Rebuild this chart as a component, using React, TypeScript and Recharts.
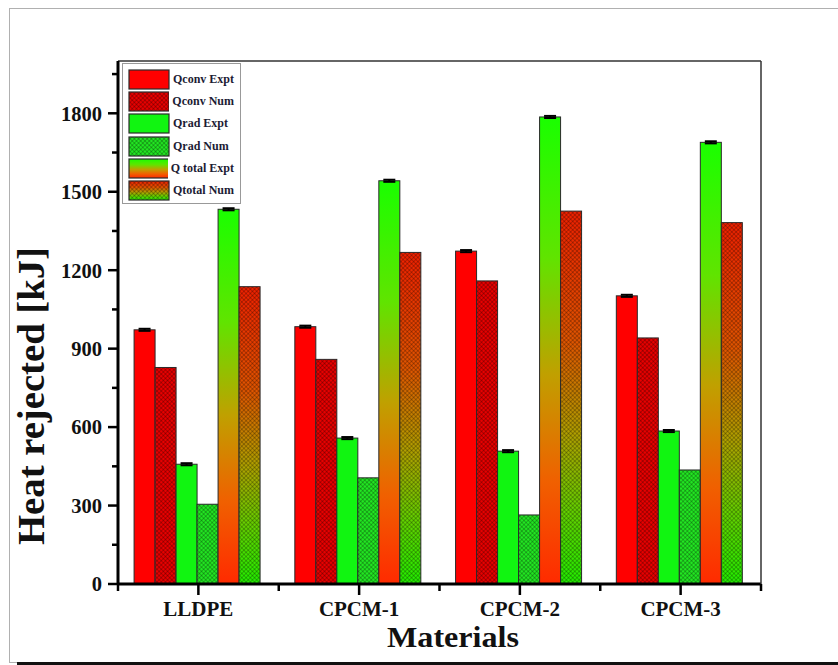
import React from 'react';
import { BarChart, Bar, XAxis, YAxis, ErrorBar, Legend } from 'recharts';

const categories = ['LLDPE', 'CPCM-1', 'CPCM-2', 'CPCM-3'];
const qconvExpt = [972, 984, 1273, 1102];
const qconvNum = [828, 859, 1159, 941];
const qradExpt = [458, 558, 508, 585];
const qradNum = [305, 406, 264, 436];
const qtotalExpt = [1433, 1542, 1786, 1689];
const qtotalNum = [1137, 1268, 1426, 1382];
const exptError = [4, 4, 4, 4];
const yMajorTicks = [0, 300, 600, 900, 1200, 1500, 1800];
const yMinorTicks = [150, 450, 750, 1050, 1350, 1650, 1950];
const seriesNames = ['Qconv Expt', 'Qconv Num', 'Qrad Expt', 'Qrad Num', 'Q total Expt', 'Qtotal Num'];

const data = categories.map((name, i) => ({
  name,
  qconvExpt: qconvExpt[i],
  qconvNum: qconvNum[i],
  qradExpt: qradExpt[i],
  qradNum: qradNum[i],
  qtotalExpt: qtotalExpt[i],
  qtotalNum: qtotalNum[i],
  err: exptError[i],
}));

const W = 838;
const H = 665;
const YAXIS_W = 60;
const XAXIS_H = 60;
// plot area: left 118, top 61, right 761, bottom 584
const M = { top: 60, left: 118 - YAXIS_W, right: 76, bottom: 665 - 584 - XAXIS_H };
const PLOT_W = 761 - 118;
const FONT = '"Liberation Serif", "Times New Roman", serif';

type Style = { fill: string; hatch: boolean };
const styles: Style[] = [
  { fill: '#ff0000', hatch: false },
  { fill: '#e80000', hatch: true },
  { fill: '#11f511', hatch: false },
  { fill: '#22e622', hatch: true },
  { fill: 'url(#gradExpt)', hatch: false },
  { fill: 'url(#gradNum)', hatch: true },
];
const keys = ['qconvExpt', 'qconvNum', 'qradExpt', 'qradNum', 'qtotalExpt', 'qtotalNum'];
const hasErr = [true, false, true, false, true, false];

const makeShape = (st: Style) => (props: any) => {
  const { x, y, width, height } = props;
  if (!height || height <= 0) return <g />;
  return (
    <g>
      <rect x={x} y={y} width={width} height={height} fill={st.fill} />
      {st.hatch && <rect x={x} y={y} width={width} height={height} fill="url(#hatch)" />}
      <rect x={x} y={y} width={width} height={height} fill="none" stroke="#2a2a2a" strokeWidth={1} />
    </g>
  );
};

const Defs = () => (
  <svg width={0} height={0} style={{ position: 'absolute', left: 0, top: 0 }}>
    <defs>
      <pattern id="hatch" width={3} height={3} patternUnits="userSpaceOnUse" patternTransform="rotate(45)">
        <path d="M0 0 H3 M0 0 V3" stroke="rgba(0,0,0,0.55)" strokeWidth={0.9} fill="none" />
      </pattern>
      <linearGradient id="gradExpt" x1="0" y1="0" x2="0" y2="1">
        <stop offset="0" stopColor="#1aff00" />
        <stop offset="0.3" stopColor="#60e400" />
        <stop offset="0.55" stopColor="#c0a000" />
        <stop offset="0.78" stopColor="#f06000" />
        <stop offset="1" stopColor="#ff2a00" />
      </linearGradient>
      <linearGradient id="gradNum" x1="0" y1="0" x2="0" y2="1">
        <stop offset="0" stopColor="#ee2000" />
        <stop offset="0.35" stopColor="#e05500" />
        <stop offset="0.6" stopColor="#b0a000" />
        <stop offset="0.8" stopColor="#66d000" />
        <stop offset="1" stopColor="#22ee00" />
      </linearGradient>
    </defs>
  </svg>
);

const YTick = (props: any) => {
  const { x, y, payload } = props;
  const major = payload.value % 300 === 0;
  return (
    <g>
      <line x1={x} y1={y} x2={x - (major ? 10 : 6)} y2={y} stroke="#000" strokeWidth={2.5} />
      {major && (
        <text x={x - 16} y={y} dy="0.36em" textAnchor="end" fontFamily={FONT} fontWeight="bold" fontSize={20.5} fill="#111">
          {payload.value}
        </text>
      )}
    </g>
  );
};

const XTick = (props: any) => {
  const { x, y, payload, index } = props;
  const band = PLOT_W / categories.length;
  return (
    <g>
      <line x1={x} y1={y} x2={x} y2={y + 11} stroke="#000" strokeWidth={2.5} />
      <line x1={x - band / 2} y1={y} x2={x - band / 2} y2={y + 7} stroke="#000" strokeWidth={2.5} />
      {index === categories.length - 1 && (
        <line x1={x + band / 2} y1={y} x2={x + band / 2} y2={y + 7} stroke="#000" strokeWidth={2.5} />
      )}
      <text x={x} y={y + 32} textAnchor="middle" fontFamily={FONT} fontWeight="bold" fontSize={21} fill="#111">
        {payload.value}
      </text>
    </g>
  );
};

const LegendBox = () => (
  <div
    style={{
      border: '1px solid #999',
      background: '#fff',
      padding: '4px 6px 1px 5px',
      width: 106,
      boxSizing: 'content-box',
    }}
  >
    {seriesNames.map((n, i) => (
      <div key={n} style={{ display: 'flex', alignItems: 'center', height: 22.3 }}>
        <svg width={42} height={21} style={{ display: 'block' }}>
          <rect x={1} y={1} width={40} height={19} fill={styles[i].fill} />
          {styles[i].hatch && <rect x={1} y={1} width={40} height={19} fill="url(#hatch)" />}
          <rect x={1} y={1} width={40} height={19} fill="none" stroke="#2a2a2a" strokeWidth={1.2} />
        </svg>
        <span style={{ fontFamily: FONT, fontWeight: 'bold', fontSize: 12, color: '#1c1c34', marginLeft: 3, whiteSpace: 'nowrap' }}>
          {n}
        </span>
      </div>
    ))}
  </div>
);

export default function App() {
  const ticks = [...yMajorTicks, ...yMinorTicks].sort((a, b) => a - b);
  return (
    <div style={{ position: 'absolute', left: 0, top: 0, width: W, height: H, background: '#fff', overflow: 'hidden' }}>
      <Defs />
      <div style={{ position: 'absolute', left: 9, top: 8, width: 840, height: 653, border: '1.5px solid #b0b0b0', borderRight: 'none' }} />
      <div style={{ position: 'absolute', left: 17, top: 662, width: 830, height: 3, background: '#111' }} />
      <div style={{ position: 'absolute', left: 0, top: 0 }}>
        <BarChart width={W} height={H} data={data} margin={M} barCategoryGap="10%" barGap={0}>
          <XAxis
            dataKey="name"
            height={XAXIS_H}
            tickSize={0}
            tickMargin={0}
            tickLine={false}
            interval={0}
            tick={<XTick />}
            axisLine={{ stroke: '#000', strokeWidth: 3 }}
            label={{
              content: () => (
                <text
                  x={453}
                  y={647}
                  textAnchor="middle"
                  fontFamily={FONT}
                  fontWeight="bold"
                  fontSize={29}
                  textLength={132}
                  lengthAdjust="spacingAndGlyphs"
                  fill="#111"
                >
                  Materials
                </text>
              ),
            }}
          />
          <XAxis xAxisId="top" dataKey="name" orientation="top" height={1} tick={false} tickLine={false} axisLine={{ stroke: '#333', strokeWidth: 1.5 }} />
          <YAxis
            domain={[0, 2000]}
            ticks={ticks}
            interval={0}
            width={YAXIS_W}
            tickSize={0}
            tickMargin={0}
            tickLine={false}
            tick={<YTick />}
            axisLine={{ stroke: '#000', strokeWidth: 3 }}
            label={{
              content: () => (
                <text
                  x={0}
                  y={0}
                  transform="translate(44 396) rotate(-90)"
                  textAnchor="middle"
                  fontFamily={FONT}
                  fontWeight="bold"
                  fontSize={37}
                  textLength={298}
                  lengthAdjust="spacingAndGlyphs"
                  fill="#111"
                >
                  Heat rejected [kJ]
                </text>
              ),
            }}
          />
          <YAxis yAxisId="right" orientation="right" domain={[0, 2000]} width={1} tick={false} tickLine={false} axisLine={{ stroke: '#333', strokeWidth: 1.5 }} />
          <Legend
            layout="vertical"
            align="center"
            verticalAlign="middle"
            content={() => <LegendBox />}
            wrapperStyle={{ position: 'absolute', left: 122, top: 63, width: 'auto', height: 'auto' }}
          />
          {keys.map((k, i) => (
            <Bar key={k} dataKey={k} name={seriesNames[i]} isAnimationActive={false} shape={makeShape(styles[i])}>
              {hasErr[i] && <ErrorBar dataKey="err" width={6} stroke="#000" strokeWidth={2} direction="y" isAnimationActive={false} />}
            </Bar>
          ))}
        </BarChart>
      </div>
    </div>
  );
}
